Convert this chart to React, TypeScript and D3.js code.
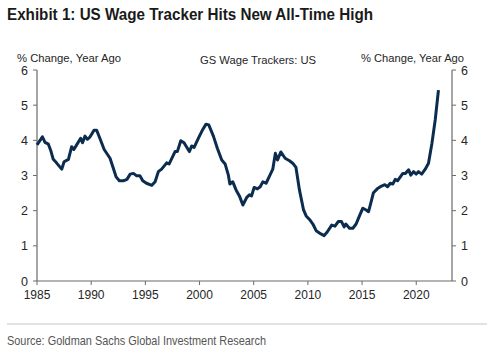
import React from "react";
import * as d3 from "d3";

const years: number[] = [
  1985.0, 1985.5, 1985.74, 1986.05, 1986.26, 1986.5, 1986.8, 1987.28, 1987.5, 1987.9,
  1988.2, 1988.4, 1988.66, 1989.03, 1989.2, 1989.43, 1989.65, 1989.9, 1990.26, 1990.5,
  1990.8, 1991.2, 1991.74, 1992.05, 1992.3, 1992.6, 1992.97, 1993.3, 1993.6, 1993.9,
  1994.2, 1994.5, 1994.76, 1995.1, 1995.6, 1995.9, 1996.2, 1996.5, 1996.97, 1997.2,
  1997.74, 1997.95, 1998.27, 1998.57, 1999.06, 1999.28, 1999.5, 1999.9, 2000.3, 2000.6,
  2000.85, 2001.28, 2001.65, 2002.05, 2002.36, 2002.66, 2002.8, 2003.07, 2003.37, 2003.68,
  2004.0, 2004.36, 2004.6, 2004.8, 2005.04, 2005.34, 2005.6, 2005.84, 2006.14, 2006.5,
  2006.76, 2007.0, 2007.2, 2007.5, 2007.9, 2008.3, 2008.6, 2008.9, 2009.22, 2009.6,
  2009.84, 2010.15, 2010.46, 2010.76, 2011.2, 2011.5, 2011.8, 2012.2, 2012.5, 2012.8,
  2013.1, 2013.35, 2013.5, 2013.84, 2014.15, 2014.45, 2014.76, 2015.07, 2015.38, 2015.6,
  2015.8, 2016.05, 2016.4, 2016.8, 2017.1, 2017.35, 2017.6, 2017.84, 2018.06, 2018.27,
  2018.5, 2018.76, 2019.0, 2019.3, 2019.5, 2019.75, 2020.0, 2020.2, 2020.5, 2020.83,
  2021.13, 2021.45, 2021.75, 2022.05,
];

const values: number[] = [
  3.87, 4.1, 3.94, 3.89, 3.72, 3.46, 3.36, 3.18, 3.39, 3.46,
  3.82, 3.74, 3.87, 4.06, 3.93, 4.12, 4.03, 4.1, 4.29, 4.29,
  4.06, 3.74, 3.49, 3.2, 2.96, 2.85, 2.85, 2.89, 3.04, 3.06,
  2.99, 2.99, 2.85, 2.78, 2.72, 2.82, 3.11, 3.18, 3.36, 3.33,
  3.68, 3.68, 3.99, 3.93, 3.68, 3.84, 3.8, 4.06, 4.31, 4.46,
  4.44, 4.12, 3.77, 3.44, 3.33, 3.01, 2.76, 2.82, 2.59, 2.42,
  2.16, 2.38, 2.45, 2.42, 2.66, 2.62, 2.68, 2.82, 2.78, 3.01,
  3.18, 3.63, 3.44, 3.67, 3.49, 3.42, 3.35, 3.23, 2.59, 2.02,
  1.85, 1.75, 1.62, 1.43, 1.34, 1.29, 1.4, 1.59, 1.56, 1.69,
  1.69, 1.54, 1.62, 1.5, 1.5, 1.62, 1.85, 2.07, 2.02, 1.97,
  2.21, 2.51, 2.62, 2.7, 2.74, 2.68, 2.78, 2.76, 2.89, 2.85,
  2.95, 3.06, 3.06, 3.16, 3.01, 3.11, 3.04, 3.11, 3.04, 3.18,
  3.35, 3.92, 4.58, 5.43,
];

const xTicks: number[] = [1985, 1990, 1995, 2000, 2005, 2010, 2015, 2020];
const yTicks: number[] = [0, 1, 2, 3, 4, 5, 6];

const title = "Exhibit 1: US Wage Tracker Hits New All-Time High";
const axisLabel = "% Change, Year Ago";
const seriesLabel = "GS Wage Trackers: US";
const source = "Source: Goldman Sachs Global Investment Research";

export default function App() {
  const W = 500, H = 351;
  const left = 37, right = 452, top = 70, bottom = 281;
  const x = d3.scaleLinear().domain([1985, 2023.3]).range([left, right]);
  const y = d3.scaleLinear().domain([0, 6]).range([bottom, top]);
  const pts: [number, number][] = years.map((yr, i) => [yr, values[i]]);
  const line = d3
    .line<[number, number]>()
    .x((d) => x(d[0]))
    .y((d) => y(d[1]))
    .curve(d3.curveLinear);
  const axisColor = "#6b6b6b";
  const textColor = "#262626";
  const font = "'Liberation Sans', Arial, sans-serif";
  return (
    <svg
      width={W}
      height={H}
      style={{ position: "absolute", left: 0, top: 0, background: "#fff" }}
      fontFamily={font}
    >
      <text
        x={7}
        y={20}
        fontSize={17}
        fontWeight="bold"
        fill="#1a1a1a"
        textLength={366}
        lengthAdjust="spacingAndGlyphs"
      >
        {title}
      </text>
      <text x={17} y={62} fontSize={11.5} fill={textColor} textLength={104} lengthAdjust="spacingAndGlyphs">
        {axisLabel}
      </text>
      <text x={200} y={64} fontSize={11.5} fill={textColor} textLength={116} lengthAdjust="spacingAndGlyphs">
        {seriesLabel}
      </text>
      <text x={361} y={62} fontSize={11.5} fill={textColor} textLength={103} lengthAdjust="spacingAndGlyphs">
        {axisLabel}
      </text>

      {/* axes */}
      <line x1={left} x2={left} y1={top} y2={bottom} stroke={axisColor} strokeWidth={1.2} />
      <line x1={right} x2={right} y1={top} y2={bottom} stroke={axisColor} strokeWidth={1.2} />
      <line x1={left} x2={right} y1={bottom} y2={bottom} stroke={axisColor} strokeWidth={1.2} />

      {yTicks.map((t) => (
        <g key={"yl" + t}>
          <line x1={left - 4} x2={left} y1={y(t)} y2={y(t)} stroke={axisColor} />
          <text x={left - 9} y={y(t) + 4.5} fontSize={12.5} textAnchor="end" fill={textColor}>
            {t}
          </text>
          <line x1={right} x2={right + 4} y1={y(t)} y2={y(t)} stroke={axisColor} />
          <text x={right + 9} y={y(t) + 4.5} fontSize={12.5} textAnchor="start" fill={textColor}>
            {t}
          </text>
        </g>
      ))}
      {xTicks.map((t) => (
        <g key={"x" + t}>
          <line x1={x(t)} x2={x(t)} y1={bottom} y2={bottom + 4} stroke={axisColor} />
          <text x={x(t)} y={bottom + 18} fontSize={12} textAnchor="middle" fill={textColor}>
            {t}
          </text>
        </g>
      ))}

      <path d={line(pts) || ""} fill="none" stroke="#0c2c4f" strokeWidth={3} strokeLinejoin="round" />

      <line x1={7} x2={487} y1={324} y2={324} stroke="#c4c4c4" strokeWidth={1} />
      <text
        x={7}
        y={345}
        fontSize={13.5}
        fill="#555"
        textLength={259}
        lengthAdjust="spacingAndGlyphs"
      >
        {source}
      </text>
    </svg>
  );
}
